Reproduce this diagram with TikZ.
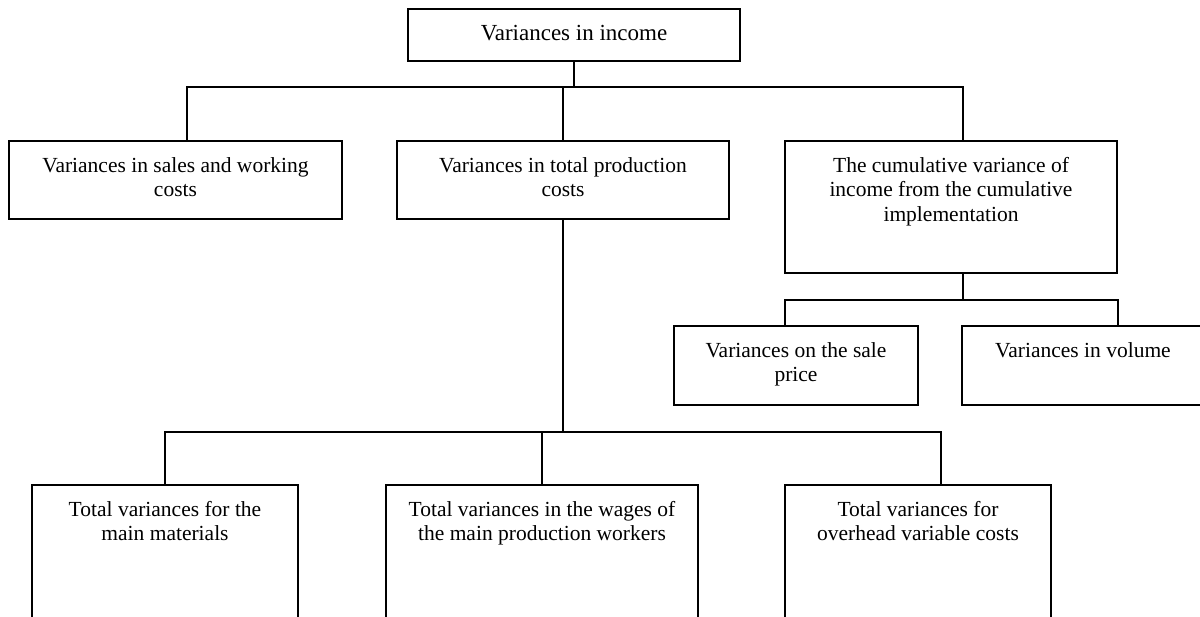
\documentclass[tikz,border=0pt]{standalone}
\usepackage{fontspec}
\setmainfont{Liberation Serif}
\newcommand\bxt[3]{\parbox[t][#2][t]{#1}{\centering\rule{0pt}{31.5pt}#3}}
\begin{document}
\begin{tikzpicture}[x=1pt,y=-1pt,
  box/.style={draw, line width=1.3pt, inner sep=0pt, outer sep=0pt, anchor=north west,
    font=\fontsize{21.5}{24.5}\selectfont},
  conn/.style={line width=1.3pt, line cap=rect}]
\useasboundingbox (0,0) rectangle (1200,617);
\clip (0,0) rectangle (1200,617);
% boxes
\node[box, font=\fontsize{23}{26}\selectfont] (top) at (408,9) {\bxt{332pt}{52pt}{Variances in income}};
\node[box] (b1)  at (9,141)   {\bxt{333pt}{78pt}{Variances in sales and working\\costs}};
\node[box] (b2)  at (397,141) {\bxt{332pt}{78pt}{Variances in total production\\costs}};
\node[box] (b3)  at (785,141) {\bxt{332pt}{132pt}{The cumulative variance of\\income from the cumulative\\implementation}};
\node[box] (b4)  at (674,326) {\bxt{244pt}{79pt}{Variances on the sale\\price}};
\node[box] (b5)  at (962,326) {\bxt{242pt}{79pt}{Variances in volume}};
\node[box] (b6)  at (32,485)  {\bxt{266pt}{140pt}{Total variances for the\\main materials}};
\node[box] (b7)  at (386,485) {\bxt{312pt}{140pt}{Total variances in the wages of\\the main production workers}};
\node[box] (b8)  at (785,485) {\bxt{266pt}{140pt}{Total variances for\\overhead variable costs}};
% junctions
\coordinate (j1L) at (187,87);
\coordinate (j1R) at (963,87);
\coordinate (j2)  at (963,300);
\coordinate (j2L) at (785,300);
\coordinate (j2R) at (1118,300);
\coordinate (j3L) at (165,432);
\coordinate (j3R) at (941,432);
% level 1
\draw[conn] (top.south) -- (top.south |- j1L);
\draw[conn] (j1L) -- (j1R);
\draw[conn] (j1L) -- (j1L |- b1.north);
\draw[conn] (b2.north |- j1L) -- (b2.north);
\draw[conn] (j1R) -- (j1R |- b3.north);
% under b3
\draw[conn] (j2 |- b3.south) -- (j2);
\draw[conn] (j2L) -- (j2R);
\draw[conn] (j2L) -- (j2L |- b4.north);
\draw[conn] (j2R) -- (j2R |- b5.north);
% under b2
\draw[conn] (b2.south) -- (b2.south |- j3L);
\draw[conn] (j3L) -- (j3R);
\draw[conn] (j3L) -- (j3L |- b6.north);
\draw[conn] (b7.north |- j3L) -- (b7.north);
\draw[conn] (j3R) -- (j3R |- b8.north);
\end{tikzpicture}
\end{document}
